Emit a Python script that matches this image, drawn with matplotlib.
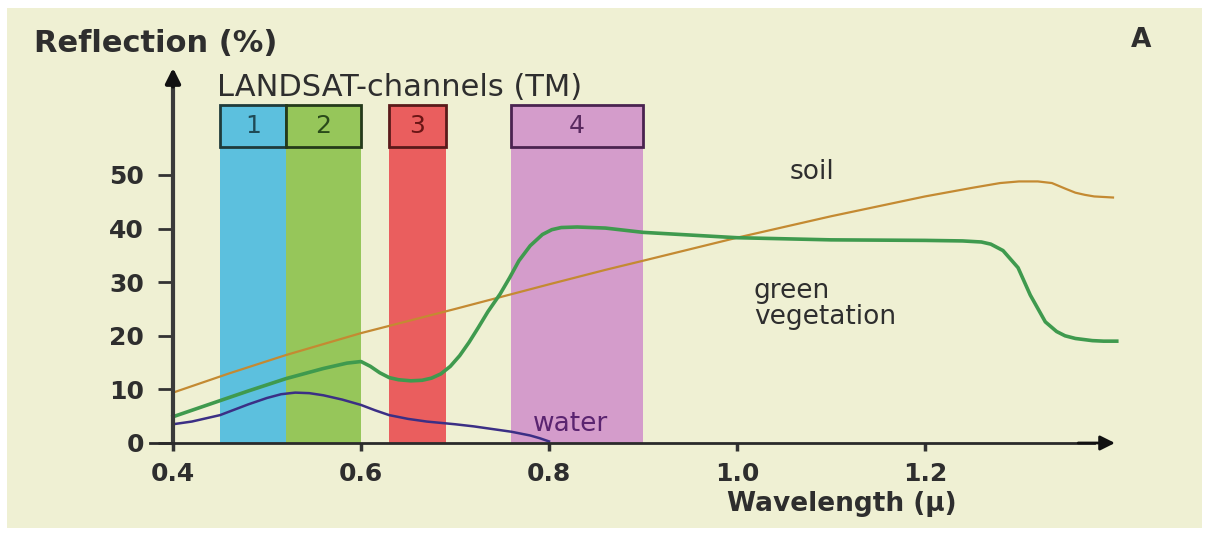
import matplotlib.pyplot as plt
from matplotlib.patches import Rectangle
import numpy as np

# Datos
band_names = ['1', '2', '3', '4']
band_start = [0.45, 0.52, 0.63, 0.76]
band_end = [0.52, 0.60, 0.69, 0.90]
band_colors = ['#5cc0de', '#96c65a', '#ea5e5e', '#d49ccb']
box_edges = ['#1f3b3b', '#243a1a', '#5a1a1a', '#4a2350']
box_text = ['#1f4a55', '#2a4a1a', '#6a1515', '#5a2a60']

soil_x = [0.40, 0.46, 0.52, 0.60, 0.70, 0.80, 0.86, 0.90, 1.00, 1.10, 1.20, 1.25, 1.28, 1.30, 1.32, 1.335,
          1.35, 1.36, 1.37, 1.38, 1.39, 1.40]
soil_y = [9.4, 13.0, 16.4, 20.5, 25.0, 29.6, 32.3, 34.0, 38.3, 42.3, 46.0, 47.6, 48.5, 48.8, 48.8, 48.5,
          47.4, 46.7, 46.3, 46.0, 45.9, 45.8]

veg_x = [0.40, 0.44, 0.48, 0.52, 0.56, 0.585, 0.60, 0.61, 0.62, 0.63, 0.64, 0.653, 0.665, 0.675, 0.685,
         0.695, 0.705, 0.715, 0.725, 0.735, 0.748, 0.758, 0.768, 0.78, 0.793, 0.803, 0.813, 0.83, 0.86,
         0.90, 0.95, 1.00, 1.10, 1.20, 1.24, 1.26, 1.27, 1.283, 1.299, 1.312, 1.328, 1.34, 1.349, 1.36,
         1.378, 1.39, 1.404]
veg_y = [4.9, 7.3, 9.7, 12.0, 13.9, 14.9, 15.2, 14.3, 13.1, 12.2, 11.8, 11.6, 11.7, 12.1, 12.9,
         14.3, 16.3, 18.8, 21.6, 24.5, 27.8, 30.8, 34.0, 36.8, 38.9, 39.8, 40.2, 40.3, 40.1,
         39.3, 38.8, 38.3, 37.9, 37.8, 37.7, 37.5, 37.1, 35.9, 32.7, 27.6, 22.6, 20.8, 20.0, 19.5,
         19.1, 19.0, 19.0]

water_x = [0.40, 0.42, 0.45, 0.48, 0.50, 0.515, 0.53, 0.545, 0.56, 0.58, 0.60, 0.615, 0.63, 0.65, 0.67,
           0.70, 0.72, 0.74, 0.76, 0.78, 0.79, 0.80]
water_y = [3.5, 4.0, 5.2, 7.2, 8.4, 9.1, 9.4, 9.3, 8.9, 8.1, 7.1, 6.1, 5.2, 4.5, 4.0,
           3.5, 3.1, 2.6, 2.1, 1.4, 0.9, 0.3]

yticks = [0, 10, 20, 30, 40, 50]
xticks = [0.4, 0.6, 0.8, 1.0, 1.2]
xticklabels = ['0.4', '0.6', '0.8', '1.0', '1.2']

ink = '#2e2e2e'
cream = '#eff0d3'

fig = plt.figure(figsize=(12.08, 5.33), dpi=100)
fig.patch.set_facecolor('white')
ax = fig.add_axes([0, 0, 1, 1])
ax.set_facecolor('white')
ax.add_patch(Rectangle((0.006, 0.01), 0.989, 0.975, transform=ax.transAxes,
                       facecolor=cream, edgecolor='none', zorder=0))

# escala: 0.4 -> 173 px, 940 px por micra; 0 -> 443 px desde arriba, 5.36 px por %
ax.set_xlim(0.4 - 173 / 940, 0.4 + 1035 / 940)
ax.set_ylim(-90 / 5.36, 443 / 5.36)

# bandas LANDSAT
for i in range(len(band_names)):
    w = band_end[i] - band_start[i]
    ax.bar(band_start[i], 55.2, width=w, bottom=0, align='edge',
           color=band_colors[i], edgecolor='none', zorder=1)
    ax.bar(band_start[i], 7.8, width=w, bottom=55.2, align='edge',
           color=band_colors[i], edgecolor=box_edges[i], linewidth=2, zorder=2)
    ax.text(band_start[i] + w / 2, 59.1, band_names[i], ha='center', va='center',
            fontsize=18, color=box_text[i], zorder=3)

# curvas
ax.plot(soil_x, soil_y, color='#c48a32', lw=1.6, zorder=4, solid_joinstyle='round')
ax.plot(veg_x, veg_y, color='#3f9a4e', lw=2.6, zorder=4, solid_joinstyle='round')
ax.plot(water_x, water_y, color='#3b2f85', lw=1.8, zorder=4, solid_joinstyle='round')

# ejes
for s in ['top', 'right']:
    ax.spines[s].set_visible(False)
ax.spines['left'].set_position(('data', 0.4))
ax.spines['bottom'].set_position(('data', 0))
ax.spines['left'].set_bounds(0, 68)
ax.spines['bottom'].set_bounds(0.375, 1.38)
ax.spines['left'].set_linewidth(3)
ax.spines['left'].set_color('#3a3a3a')
ax.spines['bottom'].set_linewidth(2)
ax.spines['bottom'].set_color('#2a2a2a')
ax.spines['left'].set_zorder(5)
ax.spines['bottom'].set_zorder(5)
ax.annotate('', xy=(0.4, 70.5), xytext=(0.4, 66),
            arrowprops=dict(arrowstyle='-|>', color='#111111', lw=3, mutation_scale=22), zorder=6)
ax.annotate('', xy=(1.405, 0), xytext=(1.36, 0),
            arrowprops=dict(arrowstyle='-|>', color='#111111', lw=2, mutation_scale=22), zorder=6)

ax.set_yticks(yticks)
ax.set_yticklabels([str(v) for v in yticks], fontsize=18, fontweight='bold', color=ink)
ax.set_xticks(xticks)
ax.set_xticklabels(xticklabels, fontsize=18, fontweight='bold', color=ink)
ax.tick_params(axis='y', length=11, width=2, color='#333333', pad=10)
ax.tick_params(axis='x', length=6, width=2.5, color='#333333', pad=8)

# textos
ax.text(0.252, 74.6, 'Reflection (%)', fontsize=22, fontweight='bold', color=ink, va='center', ha='left')
ax.text(1.43, 75.2, 'A', fontsize=19, fontweight='bold', color=ink, va='center', ha='center')
ax.text(0.447, 66.3, 'LANDSAT-channels (TM)', fontsize=22, color=ink, va='center', ha='left')
ax.text(1.08, 50.6, 'soil', fontsize=19, color=ink, va='center', ha='center')
ax.text(1.018, 25.9, 'green\nvegetation', fontsize=19, color=ink, va='center', ha='left', linespacing=1.0)
ax.text(0.783, 3.6, 'water', fontsize=19, color='#5a2470', va='center', ha='left', zorder=5)
ax.text(1.112, -11.4, 'Wavelength (\u00b5)', fontsize=19, fontweight='bold', color=ink, va='center', ha='center')

fig.savefig('out.png', dpi=100, facecolor=fig.get_facecolor())
